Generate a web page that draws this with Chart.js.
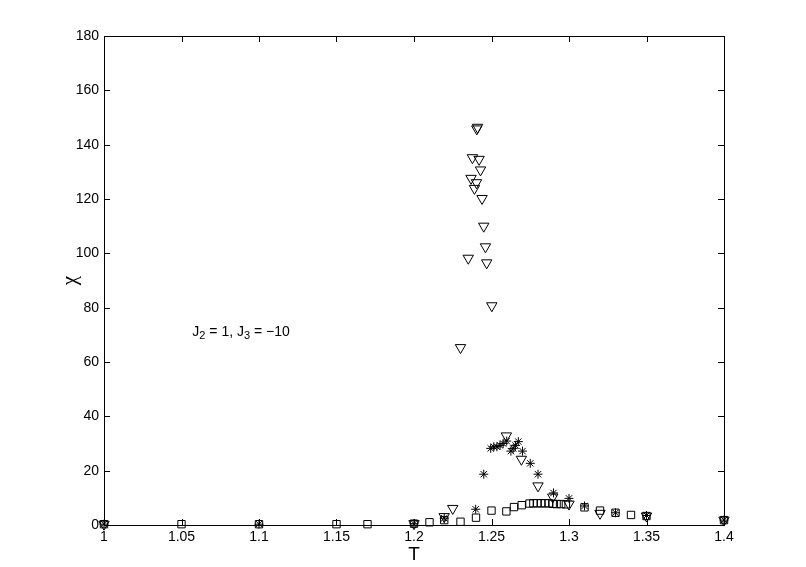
<!DOCTYPE html>
<html>
<head>
<meta charset="utf-8">
<script src="https://cdn.jsdelivr.net/npm/chart.js@4.4.0/dist/chart.umd.min.js"></script>
<style>
  html, body { margin: 0; padding: 0; background: #fff; }
  canvas { display: block; }
</style>
</head>
<body>
<canvas id="chiChart" width="806" height="567"></canvas>
<script>
// values: T on x, chi on y

// triangles (down)
const triT   = [1.0, 1.2, 1.2195, 1.225, 1.23, 1.235, 1.2368, 1.2377, 1.239, 1.2403, 1.2405, 1.241,
                1.242, 1.2429, 1.2439, 1.245, 1.2461, 1.2469, 1.2502, 1.2596, 1.2693, 1.28, 1.2895,
                1.30, 1.32, 1.35, 1.4];
const triChi = [0.3, 0.5, 3.1, 6.1, 65.3, 98.2, 127.6, 135.2, 123.9, 126.0, 145.8, 146.4,
                134.6, 130.7, 120.2, 110.0, 102.4, 96.5, 80.7, 32.8, 24.2, 14.4, 10.3,
                7.7, 4.3, 3.3, 1.8];

// asterisks
const starT   = [1.0, 1.1, 1.2, 1.2195, 1.2398, 1.245, 1.2495, 1.2515, 1.2535, 1.2555, 1.2575, 1.2598,
                 1.2625, 1.264, 1.2655, 1.2673, 1.27, 1.275, 1.28, 1.29, 1.30, 1.31, 1.33, 1.35, 1.4];
const starChi = [0.3, 0.3, 0.5, 2.5, 5.8, 18.7, 28.2, 28.8, 28.8, 29.3, 30.0, 30.9,
                 27.2, 28.2, 29.3, 30.7, 27.2, 22.7, 18.7, 11.8, 9.8, 7.0, 4.5, 3.5, 1.8];

// squares
const sqT   = [1.0, 1.05, 1.1, 1.15, 1.17, 1.2, 1.21, 1.2195, 1.23, 1.24, 1.25, 1.2596, 1.2645,
               1.2695, 1.2745, 1.277, 1.2795, 1.282, 1.2845, 1.287, 1.2895, 1.292, 1.295, 1.298,
               1.31, 1.32, 1.33, 1.34, 1.35, 1.4];
const sqChi = [0.3, 0.3, 0.3, 0.3, 0.3, 0.5, 1.0, 1.8, 1.2, 2.7, 5.3, 5.0, 6.6,
               7.3, 7.9, 8.0, 8.0, 8.0, 8.0, 8.0, 7.8, 7.7, 7.7, 7.6,
               6.5, 5.3, 4.5, 3.7, 3.3, 1.8];

const xTicks = [1, 1.05, 1.1, 1.15, 1.2, 1.25, 1.3, 1.35, 1.4];
const yTicks = [0, 20, 40, 60, 80, 100, 120, 140, 160, 180];

// label inside the axes, in data units
const noteT = 1.057;
const noteChi = 71;

function toPoints(xs, ys) {
  return xs.map((x, i) => ({ x: x, y: ys[i] }));
}

Chart.defaults.font.family = '"Liberation Sans", Arial, Helvetica, sans-serif';
Chart.defaults.color = '#000';

// matlab style box with inward ticks + the J2/J3 note
const matlabAxes = {
  id: 'matlabAxes',
  beforeDatasetsDraw(chart) {
    const { ctx, chartArea: a, scales: { x, y } } = chart;
    const tl = 6;
    ctx.save();
    ctx.strokeStyle = '#000';
    ctx.lineWidth = 1;
    ctx.beginPath();
    ctx.rect(a.left + 0.5, a.top + 0.5, a.right - a.left, a.bottom - a.top);
    xTicks.forEach(v => {
      const px = Math.round(x.getPixelForValue(v)) + 0.5;
      ctx.moveTo(px, a.bottom); ctx.lineTo(px, a.bottom - tl);
      ctx.moveTo(px, a.top); ctx.lineTo(px, a.top + tl);
    });
    yTicks.forEach(v => {
      const py = Math.round(y.getPixelForValue(v)) + 0.5;
      ctx.moveTo(a.left, py); ctx.lineTo(a.left + tl, py);
      ctx.moveTo(a.right, py); ctx.lineTo(a.right - tl, py);
    });
    ctx.stroke();
    ctx.restore();
  },
  afterDraw(chart) {
    const { ctx, scales: { x, y } } = chart;
    let px = x.getPixelForValue(noteT);
    const py = y.getPixelForValue(noteChi);
    const big = '14px "Liberation Sans", Arial, sans-serif';
    const small = '11px "Liberation Sans", Arial, sans-serif';
    const parts = [['J', big, 0], ['2', small, 4], [' = 1, J', big, 0], ['3', small, 4], [' = \u221210', big, 0]];
    ctx.save();
    ctx.fillStyle = '#000';
    ctx.textBaseline = 'middle';
    ctx.textAlign = 'left';
    parts.forEach(([t, f, dy]) => {
      ctx.font = f;
      ctx.fillText(t, px, py + dy);
      px += ctx.measureText(t).width;
    });
    ctx.restore();
  }
};

const markerBase = {
  showLine: false,
  backgroundColor: 'rgba(0,0,0,0)',
  borderColor: '#000',
  pointBorderWidth: 1,
  clip: false
};

new Chart(document.getElementById('chiChart'), {
  type: 'scatter',
  data: {
    datasets: [
      Object.assign({ label: 'squares', data: toPoints(sqT, sqChi), pointStyle: 'rect', pointRadius: 5.2 }, markerBase),
      Object.assign({ label: 'stars', data: toPoints(starT, starChi), pointStyle: 'star', pointRadius: 4.5, pointBorderWidth: 1.2 }, markerBase),
      Object.assign({ label: 'triangles', data: toPoints(triT, triChi), pointStyle: 'triangle', rotation: 180, pointRadius: 6 }, markerBase)
    ]
  },
  options: {
    responsive: false,
    animation: false,
    devicePixelRatio: 1,
    layout: { padding: { top: 36, right: 82, left: 0, bottom: 0 } },
    plugins: { legend: { display: false }, tooltip: { enabled: false } },
    scales: {
      x: {
        type: 'linear',
        min: 1, max: 1.4,
        afterBuildTicks: s => { s.ticks = xTicks.map(v => ({ value: v })); },
        afterFit: s => { s.height = 42; },
        grid: { display: false, drawTicks: false },
        border: { display: false },
        ticks: { padding: 4, maxRotation: 0, autoSkip: false, font: { size: 14 }, color: '#000',
                 callback: v => String(Math.round(v * 100) / 100) },
        title: { display: true, text: 'T', font: { size: 19 }, color: '#000', padding: { top: 0, bottom: 1 } }
      },
      y: {
        type: 'linear',
        min: 0, max: 180,
        afterBuildTicks: s => { s.ticks = yTicks.map(v => ({ value: v })); },
        afterFit: s => { s.width = 104; },
        grid: { display: false, drawTicks: false },
        border: { display: false },
        ticks: { padding: 5, autoSkip: false, font: { size: 14 }, color: '#000' },
        title: { display: true, text: '\u03c7', font: { size: 21, family: '"Liberation Serif", "DejaVu Serif", serif' }, color: '#000', padding: { top: 58, bottom: 0 } }
      }
    }
  },
  plugins: [matlabAxes]
});
</script>
</body>
</html>
